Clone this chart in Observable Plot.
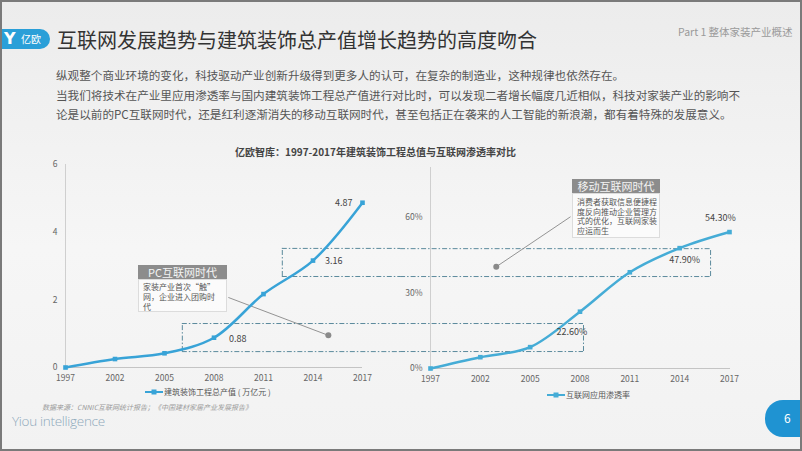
<!DOCTYPE html>
<html><head><meta charset="utf-8">
<script src="https://cdn.jsdelivr.net/npm/d3@7"></script>
<script src="https://cdn.jsdelivr.net/npm/@observablehq/plot@0.6"></script>
<style>
body{margin:0;background:#fff;}
#page{position:relative;width:802px;height:451px;overflow:hidden;background:linear-gradient(180deg,#ececec 0%,#f6f6f6 55%,#f2f2f2 100%);font-family:"Noto Sans CJK SC","Noto Sans",sans-serif;}
.abs{position:absolute;white-space:nowrap;}
#frame{position:absolute;left:0;top:0;width:802px;height:451px;box-sizing:border-box;border:2px solid #7a7a7a;pointer-events:none;}
.ctitle{position:absolute;background:#8c8c8c;color:#f4f4f4;font-size:11px;text-align:center;line-height:14px;}
.cbody{position:absolute;background:rgba(255,255,255,0.55);border:1px solid #dcdcdc;box-sizing:border-box;color:#555;font-size:8px;padding:2px 3px 0 4px;white-space:nowrap;}
.legend{position:absolute;font-size:8px;color:#555;display:flex;align-items:center;white-space:nowrap;}
</style></head>
<body>
<div id="page">
  <div class="abs" style="left:0;top:29px;width:50px;height:20px;background:#2a9fd8;border-radius:0 10px 10px 0;"></div>
  <div class="abs" style="left:4px;top:29px;height:20px;line-height:20px;color:#fff;font-size:16px;font-family:'DejaVu Sans';font-weight:bold;">Y</div>
  <div class="abs" style="left:21px;top:29px;height:20px;line-height:20px;color:#fff;font-size:10px;">亿欧</div>
  <div class="abs" style="left:57px;top:26px;font-size:20px;line-height:28px;color:#333;">互联网发展趋势与建筑装饰总产值增长趋势的高度吻合</div>
  <div class="abs" style="left:678px;top:24px;font-size:10.5px;line-height:16px;color:#9a9a9a;">Part 1 整体家装产业概述</div>
  <div class="abs" style="left:56px;top:66px;font-size:11.6px;line-height:19.5px;color:#555;">纵观整个商业环境的变化，科技驱动产业创新升级得到更多人的认可，在复杂的制造业，这种规律也依然存在。<br>当我们将技术在产业里应用渗透率与国内建筑装饰工程总产值进行对比时，可以发现二者增长幅度几近相似，科技对家装产业的影响不<br>论是以前的PC互联网时代，还是红利逐渐消失的移动互联网时代，甚至包括正在袭来的人工智能的新浪潮，都有着特殊的发展意义。</div>
  <div class="abs" style="left:235px;top:144px;font-size:10px;font-weight:bold;color:#444;line-height:16px;">亿欧智库：1997-2017年建筑装饰工程总值与互联网渗透率对比</div>
  <div id="left" class="abs" style="left:0;top:140px;"></div>
  <div id="right" class="abs" style="left:400px;top:140px;"></div>

  <div class="ctitle" style="left:138px;top:265px;width:89px;height:14px;">PC互联网时代</div>
  <div class="cbody" style="left:138px;top:279px;width:89px;height:33px;line-height:9.8px;">家装产业首次“触”<br>网，企业进入团购时<br>代</div>
  <div class="ctitle" style="left:572px;top:179px;width:88px;height:14px;">移动互联网时代</div>
  <div class="cbody" style="left:572px;top:193px;width:88px;height:45px;line-height:9.7px;padding-top:3px;">消费者获取信息便捷程<br>度反向推动企业管理方<br>式的优化，互联网家装<br>应运而生</div>

  <div class="legend" style="left:145px;top:386px;"><svg width="18" height="8"><line x1="0" y1="4" x2="18" y2="4" stroke="#38a3d7" stroke-width="2"/><rect x="6.5" y="1.5" width="5" height="5" fill="#38a3d7"/></svg><span style="margin-left:1px;">建筑装饰工程总产值 ( 万亿元 )</span></div>
  <div class="legend" style="left:547px;top:389px;"><svg width="18" height="8"><line x1="0" y1="4" x2="18" y2="4" stroke="#45acd6" stroke-width="2"/><rect x="6.5" y="1.5" width="5" height="5" fill="#45acd6"/></svg><span style="margin-left:1px;">互联网应用渗透率</span></div>

  <div class="abs" style="left:42px;top:402px;font-size:7px;font-style:italic;color:#9a9a9a;">数据来源：CNNIC互联网统计报告；《中国建材家居产业发展报告》</div>
  <div class="abs" style="left:12px;top:412px;font-size:13.5px;color:#8ea9bb;font-family:'Open Sans';font-weight:300;letter-spacing:-0.3px;">Yiou intelligence</div>
  <div class="abs" style="left:765px;top:400px;width:40px;height:37px;background:#1f93d2;border-radius:18px 0 0 18px;"></div>
  <div class="abs" style="left:784px;top:410px;font-size:12px;color:#fff;line-height:16px;">6</div>
  <div id="frame"></div>
</div>
<script>
const years = ["1997","2002","2005","2008","2011","2014","2017"];
const outputValue = [0, 0.25, 0.42, 0.88, 2.17, 3.16, 4.87];
const penetration = [0, 4.5, 8.5, 22.6, 38.3, 47.9, 54.3];
const leftTicks = [0, 2, 4, 6];
const rightTicks = [0, 30, 60];
const outputLabels = ["", "", "", "0.88", "", "3.16", "4.87"];
const penetrationLabels = ["", "", "", "22.60%", "", "47.90%", "54.30%"];
// annotation bands (in each chart's own data units)
const leftBands = [{x1: 2.36, x2: 6.77, y1: 0.47, y2: 1.30}, {x1: 4.38, x2: 6.77, y1: 2.69, y2: 3.52}];
const rightBands = [{x1: -0.6, x2: 3.07, y1: 6.75, y2: 17.9}, {x1: -0.6, x2: 5.62, y1: 36.6, y2: 47.7}];
const leftConnector = [{x1: 3.29, y1: 2.07, x2: 5.31, y2: 0.95}];
const rightConnector = [{x1: 2.81, y1: 60.4, x2: 1.32, y2: 40.5}];

const idx = years.map((_, i) => i);
const leftData = idx.map(i => ({i, v: outputValue[i], label: outputLabels[i]}));
const rightData = idx.map(i => ({i, v: penetration[i], label: penetrationLabels[i]}));
const dash = "5,2,1.5,2";
const bandColor = "#5b8a9c";
const font = '"Noto Sans CJK SC","Noto Sans",sans-serif';

function bandMarks(bands, verticalSide) {
  const hs = bands.flatMap(b => [{y: b.y1, x1: b.x1, x2: b.x2}, {y: b.y2, x1: b.x1, x2: b.x2}]);
  const vs = bands.map(b => ({x: b[verticalSide], y1: b.y1, y2: b.y2}));
  return [
    Plot.ruleY(hs, {y: "y", x1: "x1", x2: "x2", stroke: bandColor, strokeWidth: 1, strokeDasharray: dash}),
    Plot.ruleX(vs, {x: "x", y1: "y1", y2: "y2", stroke: bandColor, strokeWidth: 1, strokeDasharray: dash})
  ];
}

function lab(data, i, opts) {
  return Plot.text(data.filter(d => d.i === i), {x: "i", y: "v", text: "label", fill: "#444", fontSize: 9, ...opts});
}

const leftColor = "#38a3d7";
const left = Plot.plot({
  width: 400, height: 270,
  marginLeft: 65, marginRight: 38, marginTop: 24, marginBottom: 43,
  style: {background: "transparent", fontFamily: font, fontSize: "8.5px", color: "#666", overflow: "visible"},
  x: {domain: [0, 6], ticks: idx, tickFormat: i => years[i], tickSize: 0, tickPadding: 7, label: null},
  y: {domain: [0, 6], ticks: leftTicks, tickFormat: d => String(d), tickSize: 0, tickPadding: 8, label: null},
  marks: [
    Plot.ruleX([0], {y1: 0, y2: 6, stroke: "#cfcfcf"}),
    Plot.ruleY([0], {x1: 0, x2: 6, stroke: "#c4c4c4"}),
    ...bandMarks(leftBands, "x1"),
    Plot.link(leftConnector, {x1: "x1", y1: "y1", x2: "x2", y2: "y2", stroke: "#888", strokeWidth: 0.9}),
    Plot.dot(leftConnector, {x: "x2", y: "y2", r: 3, fill: "#8a8a8a"}),
    Plot.line(leftData, {x: "i", y: "v", stroke: leftColor, strokeWidth: 2.5, curve: "catmull-rom"}),
    Plot.dot(leftData, {x: "i", y: "v", symbol: "square", r: 2.6, fill: leftColor}),
    lab(leftData, 3, {dx: 15, dy: 1, textAnchor: "start"}),
    lab(leftData, 5, {dx: 12, dy: 1, textAnchor: "start"}),
    lab(leftData, 6, {dx: -10, dy: 0, textAnchor: "end"})
  ]
});
document.getElementById("left").append(left);

const rightColor = "#45acd6";
const right = Plot.plot({
  width: 402, height: 270,
  marginLeft: 30, marginRight: 73, marginTop: 27, marginBottom: 42,
  style: {background: "transparent", fontFamily: font, fontSize: "8.5px", color: "#666", overflow: "visible"},
  x: {domain: [0, 6], ticks: idx, tickFormat: i => years[i], tickSize: 0, tickPadding: 7, label: null},
  y: {domain: [0, 80], ticks: rightTicks, tickFormat: d => d + "%", tickSize: 0, tickPadding: 8, label: null},
  marks: [
    Plot.ruleX([0], {y1: 0, y2: 80, stroke: "#cfcfcf"}),
    Plot.ruleY([0], {x1: 0, x2: 6.02, stroke: "#c4c4c4"}),
    ...bandMarks(rightBands, "x2"),
    Plot.link(rightConnector, {x1: "x1", y1: "y1", x2: "x2", y2: "y2", stroke: "#888", strokeWidth: 0.9}),
    Plot.dot(rightConnector, {x: "x2", y: "y2", r: 3, fill: "#8a8a8a"}),
    Plot.line(rightData, {x: "i", y: "v", stroke: rightColor, strokeWidth: 2.5, curve: "catmull-rom"}),
    Plot.dot(rightData, {x: "i", y: "v", symbol: "square", r: 2.6, fill: rightColor}),
    lab(rightData, 3, {dx: -8, dy: 20}),
    lab(rightData, 5, {dx: 5, dy: 12}),
    lab(rightData, 6, {dx: -9, dy: -14})
  ]
});
document.getElementById("right").append(right);
</script>
</body></html>
